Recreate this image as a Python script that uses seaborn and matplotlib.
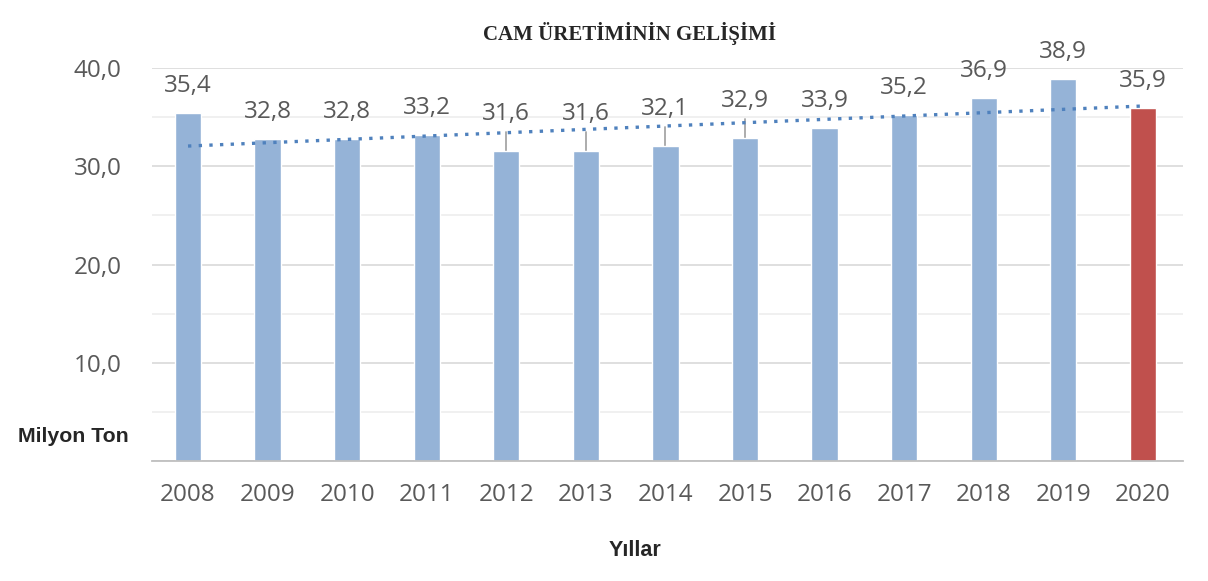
import matplotlib
matplotlib.use("Agg")
import matplotlib.pyplot as plt
import pandas as pd
import seaborn as sns
from matplotlib.ticker import FuncFormatter, MultipleLocator

years = ["2008", "2009", "2010", "2011", "2012", "2013", "2014",
         "2015", "2016", "2017", "2018", "2019", "2020"]
production = [35.4, 32.8, 32.8, 33.2, 31.6, 31.6, 32.1,
              32.9, 33.9, 35.2, 36.9, 38.9, 35.9]
leader_years = ["2012", "2013", "2014", "2015"]
highlight_year = "2020"

BLUE = "#95B3D7"
RED = "#C0504D"
TREND = "#4F81BD"
GRAY_TXT = "#595959"

sns.set_style("white")
plt.rcParams["font.family"] = ["Open Sans", "DejaVu Sans"]

df = pd.DataFrame({"yil": years, "uretim": production})
df["idx"] = range(len(df))
df["renk"] = ["vurgu" if y == highlight_year else "normal" for y in years]

fig = plt.figure(figsize=(12.08, 5.81), dpi=100)
ax = fig.add_axes([0.126, 0.2065, 0.853, 0.6765])

sns.barplot(data=df, x="yil", y="uretim", hue="renk",
            palette={"normal": BLUE, "vurgu": RED}, width=0.33,
            saturation=1, dodge=False, legend=False, ax=ax, zorder=2)

# dotted linear trend line
sns.regplot(data=df, x="idx", y="uretim", scatter=False, ci=None,
            truncate=True, ax=ax,
            line_kws={"color": TREND, "linestyle": (0, (1, 2.2)),
                      "linewidth": 2.4, "zorder": 3})


def fmt_tick(v, pos):
    if v <= 0:
        return ""
    return f"{v:.1f}".replace(".", ",")


ax.set_ylim(0, 40)
ax.set_xlim(-0.45, 12.5)
ax.yaxis.set_major_locator(MultipleLocator(10))
ax.yaxis.set_minor_locator(MultipleLocator(5))
ax.yaxis.set_major_formatter(FuncFormatter(fmt_tick))
ax.grid(axis="y", which="major", color="#d9d9d9", linewidth=1.2, zorder=0)
ax.grid(axis="y", which="minor", color="#eeeeee", linewidth=1.2, zorder=0)
ax.set_axisbelow(True)

for s in ["top", "right", "left"]:
    ax.spines[s].set_visible(False)
ax.spines["bottom"].set_color("#bfbfbf")
ax.spines["bottom"].set_linewidth(1.3)

ax.tick_params(axis="y", which="both", length=0, pad=22, labelsize=17.5,
               labelcolor=GRAY_TXT)
ax.tick_params(axis="x", length=0, pad=16, labelsize=17.5, labelcolor=GRAY_TXT)
ax.set_xlabel("")
ax.set_ylabel("")

# data labels
for i, (yr, val) in enumerate(zip(years, production)):
    lab = f"{val:.1f}".replace(".", ",")
    if yr in leader_years:
        ax.plot([i, i], [val, val + 1.9], color="#a6a6a6", linewidth=1.3,
                zorder=1, clip_on=False)
        ty = val + 3.7
    else:
        ty = val + 2.75
    ax.text(i, ty, lab, ha="center", va="center", fontsize=17.5,
            color=GRAY_TXT, clip_on=False)

fig.text(0.5215, 0.943, "CAM ÜRETİMİNİN GELİŞİMİ", ha="center", va="center",
         fontsize=15, fontweight="bold", family=["Liberation Serif", "DejaVu Serif"])
fig.text(0.015, 1 - 437 / 581, "Milyon Ton", ha="left", va="center",
         fontsize=15.3, fontweight="bold", family=["Liberation Sans", "DejaVu Sans"])
fig.text(635 / 1208, 1 - 550 / 581, "Yıllar", ha="center", va="center",
         fontsize=15.5, fontweight="bold", family=["Liberation Sans", "DejaVu Sans"])

fig.savefig("out.png", dpi=100)
